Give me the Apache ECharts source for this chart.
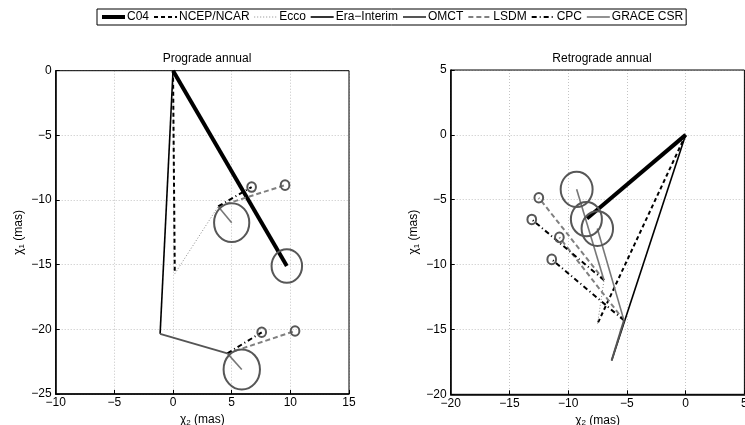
<!DOCTYPE html>
<html>
<head>
<meta charset="utf-8">
<script src="https://cdn.jsdelivr.net/npm/echarts@6/dist/echarts.min.js"></script>
<style>
    html, body { margin: 0; padding: 0; background: #fff; }
    #chart { width: 745px; height: 425px; }
</style>
</head>
<body>
<div id="chart"></div>
<script>
// legend order
var seriesNames = ['C04', 'NCEP/NCAR', 'Ecco', 'Era−Interim', 'OMCT', 'LSDM', 'CPC', 'GRACE CSR'];

// segments: [name, x0, y0, x1, y1]  (chi2, chi1 in mas)
var progradeSegments = [
    ['C04', 0, 0, 9.7, -15.1],
    ['NCEP/NCAR', 0, 0, 0.15, -15.7],
    ['Ecco', 0.15, -15.7, 3.85, -10.5],
    ['Era−Interim', 0, 0, -1.1, -20.35],
    ['OMCT', -1.1, -20.35, 4.63, -21.86],
    ['LSDM', 3.85, -10.5, 9.55, -8.85],
    ['LSDM', 4.63, -21.86, 10.4, -20.13],
    ['CPC', 3.85, -10.5, 6.7, -9.0],
    ['CPC', 4.63, -21.86, 7.56, -20.23],
    ['GRACE CSR', 3.85, -10.5, 5.0, -11.75],
    ['GRACE CSR', 4.63, -21.86, 5.86, -23.1]
];
var retrogradeSegments = [
    ['C04', 0, 0, -8.4, -6.45],
    ['NCEP/NCAR', 0, 0, -7.5, -14.55],
    ['Ecco', -7.5, -14.55, -6.95, -11.2],
    ['Era−Interim', 0, 0, -6.3, -17.4],
    ['OMCT', -6.3, -17.4, -5.25, -14.3],
    ['LSDM', -6.95, -11.2, -12.5, -4.85],
    ['LSDM', -5.25, -14.3, -10.75, -7.9],
    ['CPC', -6.95, -11.2, -13.1, -6.52],
    ['CPC', -5.25, -14.3, -11.4, -9.6],
    ['GRACE CSR', -6.95, -11.2, -9.28, -4.2],
    ['GRACE CSR', -5.25, -14.3, -7.52, -7.22]
];

// error circles: [x, y, radius]
var progradeCircles = [
    [9.7, -15.1, 1.3], [5.0, -11.75, 1.5], [5.86, -23.1, 1.55],
    [9.55, -8.85, 0.37], [6.7, -9.0, 0.37], [10.4, -20.13, 0.37], [7.56, -20.23, 0.37]
];
var retrogradeCircles = [
    [-8.45, -6.5, 1.32], [-9.28, -4.2, 1.36], [-7.52, -7.22, 1.34],
    [-12.5, -4.85, 0.37], [-13.1, -6.52, 0.37], [-10.75, -7.9, 0.37], [-11.4, -9.6, 0.37]
];

var progradeTicks = { xMin: -10, xMax: 15, yMin: -25, yMax: 0 };
var retrogradeTicks = { xMin: -20, xMax: 5, yMin: -20, yMax: 5 };

var lineStyles = {
    'C04': { color: '#000', width: 4, type: 'solid' },
    'NCEP/NCAR': { color: '#000', width: 2, type: [4, 3] },
    'Ecco': { color: '#8a8a8a', width: 1, type: [1, 2] },
    'Era−Interim': { color: '#000', width: 1.6, type: 'solid' },
    'OMCT': { color: '#555', width: 2, type: 'solid' },
    'LSDM': { color: '#808080', width: 2, type: [5, 3] },
    'CPC': { color: '#000', width: 2, type: [5, 3, 1, 3] },
    'GRACE CSR': { color: '#777', width: 1.6, type: 'solid' }
};

var FONT = 'Liberation Sans';

window.onload = function () {
    drawChart();
};

function minusSign(v) {
    return String(v).replace('-', '\u2212');
}

function makeAxis(gridIndex, min, max, isX, label) {
    var axis = {
        type: 'value',
        gridIndex: gridIndex,
        min: min,
        max: max,
        interval: 5,
        axisLine: { show: true, onZero: false, lineStyle: { color: '#000', width: 1.5 } },
        axisTick: { show: true, inside: true, length: 4, lineStyle: { color: '#000' } },
        axisLabel: {
            color: '#000', fontSize: 12, fontFamily: FONT, margin: isX ? 3 : 4,
            showMinLabel: true, showMaxLabel: true,
            formatter: minusSign
        },
        splitLine: { show: true, lineStyle: { color: '#c4c4c4', type: [1, 2], width: 1 } },
        name: label,
        nameLocation: 'middle',
        nameGap: isX ? 15 : 30,
        nameTextStyle: {
            color: '#000', fontSize: 12, fontFamily: FONT,
            rich: { sub: { fontSize: 8, fontFamily: FONT, color: '#000', padding: [6, 0, 0, 0] } }
        }
    };
    return axis;
}

function buildSeries(segments, circles, idx) {
    var out = [];
    for (var i in segments) {
        var s = segments[i];
        var st = lineStyles[s[0]];
        out.push({
            type: 'line',
            name: s[0],
            xAxisIndex: idx,
            yAxisIndex: idx,
            data: [[s[1], s[2]], [s[3], s[4]]],
            symbol: 'none',
            silent: true,
            animation: false,
            itemStyle: { color: st.color },
            lineStyle: { color: st.color, width: st.width, type: st.type, cap: 'butt' },
            z: s[0] === 'OMCT' ? 3 : 2
        });
    }
    out.push({
        type: 'custom',
        name: 'circles' + idx,
        xAxisIndex: idx,
        yAxisIndex: idx,
        data: circles,
        silent: true,
        animation: false,
        z: 4,
        renderItem: function (params, api) {
            var c = api.coord([api.value(0), api.value(1)]);
            var sz = api.size([api.value(2), api.value(2)]);
            return {
                type: 'ellipse',
                shape: { cx: c[0], cy: c[1], rx: sz[0], ry: sz[1] },
                style: { fill: null, stroke: '#575757', lineWidth: 2 }
            };
        }
    });
    return out;
}

function drawChart() {
    var chart = echarts.init(document.getElementById('chart'), null, { renderer: 'canvas' });

    var legendData = seriesNames.map(function (n) {
        var st = lineStyles[n];
        return { name: n, lineStyle: { color: st.color, width: st.width, type: st.type } };
    });

    var option = {
        backgroundColor: '#fff',
        animation: false,
        title: [
            { text: 'Prograde annual', left: 202, top: 48, textAlign: 'center',
              textStyle: { fontSize: 12, fontWeight: 'normal', color: '#000', fontFamily: FONT } },
            { text: 'Retrograde annual', left: 597, top: 48, textAlign: 'center',
              textStyle: { fontSize: 12, fontWeight: 'normal', color: '#000', fontFamily: FONT } }
        ],
        legend: {
            data: legendData,
            top: 9,
            left: 97,
            orient: 'horizontal',
            borderColor: '#000',
            borderWidth: 1,
            borderRadius: 0,
            padding: [2, 3],
            itemGap: 4,
            itemWidth: 23,
            itemHeight: 12,
            itemStyle: { opacity: 0 },
            textStyle: { fontSize: 12, color: '#000', fontFamily: FONT, padding: [0, 0, 0, -3] }
        },
        grid: [
            { left: 55.7, top: 70.7, width: 293.3, height: 323.3, show: true, z: 10,
              borderColor: '#000', borderWidth: 1, outerBoundsMode: 'none', containLabel: false },
            { left: 450.7, top: 70, width: 293.7, height: 324.3, show: true, z: 10,
              borderColor: '#000', borderWidth: 1, outerBoundsMode: 'none', containLabel: false }
        ],
        xAxis: [
            makeAxis(0, progradeTicks.xMin, progradeTicks.xMax, true, 'χ{sub|2} (mas)'),
            makeAxis(1, retrogradeTicks.xMin, retrogradeTicks.xMax, true, 'χ{sub|2} (mas)')
        ],
        yAxis: [
            makeAxis(0, progradeTicks.yMin, progradeTicks.yMax, false, 'χ{sub|1} (mas)'),
            makeAxis(1, retrogradeTicks.yMin, retrogradeTicks.yMax, false, 'χ{sub|1} (mas)')
        ],
        series: buildSeries(progradeSegments, progradeCircles, 0)
            .concat(buildSeries(retrogradeSegments, retrogradeCircles, 1))
    };

    chart.setOption(option);
}
</script>
</body>
</html>
